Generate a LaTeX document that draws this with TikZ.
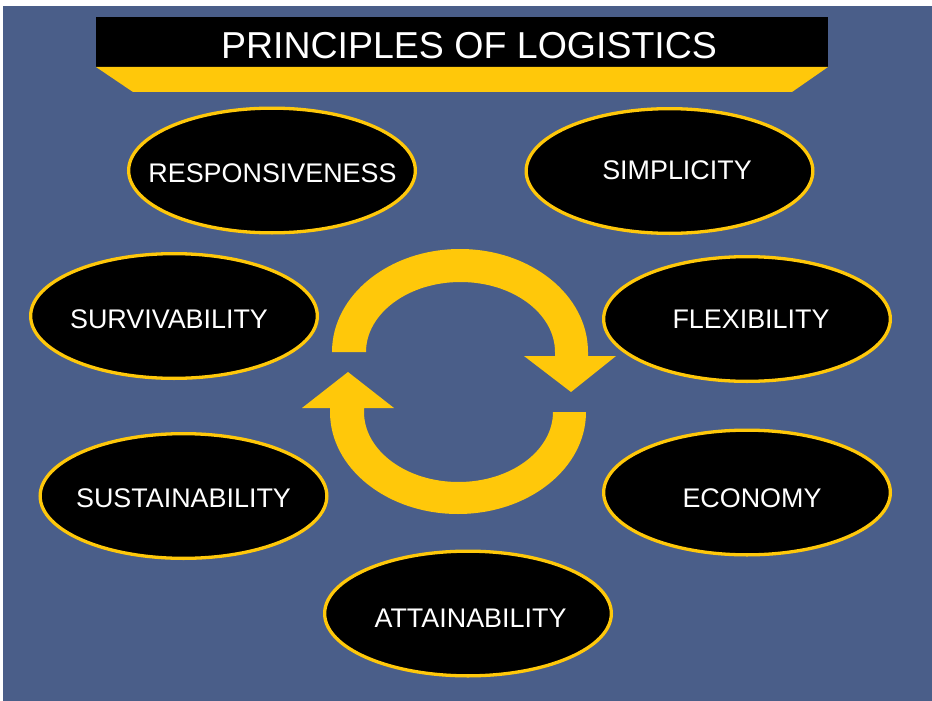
\documentclass[tikz,border=0pt]{standalone}
\usepackage{fontspec}
\setmainfont{Liberation Sans}
\usetikzlibrary{shapes.geometric}
\definecolor{bgblue}{RGB}{74,94,137}
\definecolor{ylw}{RGB}{255,200,10}
\tikzset{
  oval/.style={ellipse, draw=ylw, fill=black, line width=3.3pt, minimum width=286.7pt, minimum height=124.7pt, inner sep=0pt},
  lbl/.style={anchor=base, text=white, inner sep=0pt, font=\fontsize{26.9}{29}\selectfont},
}
\begin{document}
\begin{tikzpicture}[x=1pt,y=-1pt]
\useasboundingbox (0,0) rectangle (932,701);
\fill[white] (0,0) rectangle (932,701);
\fill[bgblue] (3,6) rectangle (932,701);
% title bar
\fill[black] (96,17) rectangle (828,67);
\fill[ylw] (96,67) -- (828,67) -- (792,92) -- (133,92) -- cycle;
\node[anchor=base, text=white, inner sep=0pt, font=\fontsize{37.5}{40}\selectfont] (title) at (469,59) {PRINCIPLES OF LOGISTICS};
% ovals
\node[oval] (o1) at (272,170.5) {};
\node[oval] (o2) at (669.5,171) {};
\node[oval] (o3) at (174,316) {};
\node[oval] (o4) at (747,319) {};
\node[oval] (o5) at (183.5,496) {};
\node[oval] (o6) at (747,492.5) {};
\node[oval] (o7) at (468,613.5) {};
\node[lbl] (t1) at (272.5,182) {RESPONSIVENESS};
\node[lbl] (t2) at (677,179) {SIMPLICITY};
\node[lbl] (t3) at (169,328) {SURVIVABILITY};
\node[lbl] (t4) at (751,328) {FLEXIBILITY};
\node[lbl] (t5) at (183.5,507) {SUSTAINABILITY};
\node[lbl] (t6) at (752,507) {ECONOMY};
\node[lbl] (t7) at (470.5,627) {ATTAINABILITY};
% circular arrows
\fill[ylw] (332,352) arc[start angle=180,end angle=360,x radius=128,y radius=103]
  -- (588,356) -- (616,356) -- (571,392) -- (524,356) -- (555,356) -- (555,352)
  arc[start angle=360,end angle=180,x radius=94.5,y radius=70] -- cycle;
\fill[ylw] (586,412) arc[start angle=0,end angle=180,x radius=128,y radius=102]
  -- (330,408) -- (302,408) -- (348,372) -- (394,408) -- (364,408) -- (364,412)
  arc[start angle=180,end angle=0,x radius=94.5,y radius=70] -- cycle;
\end{tikzpicture}
\end{document}
